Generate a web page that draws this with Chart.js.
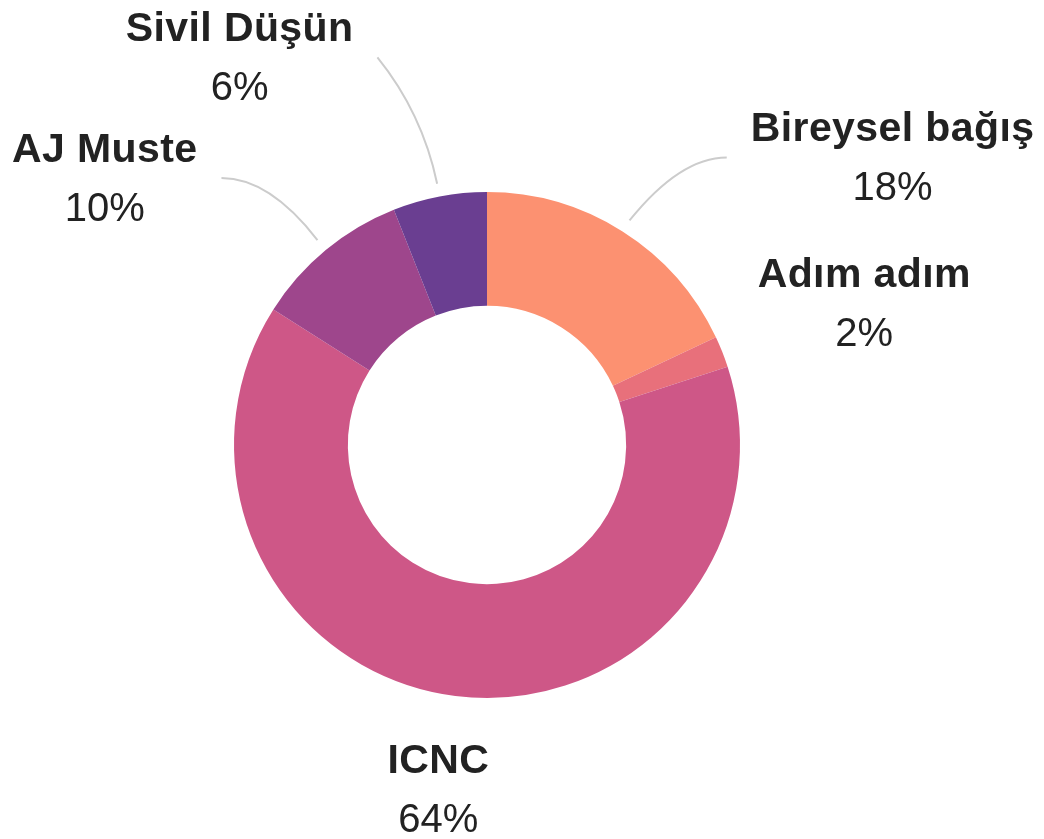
<!DOCTYPE html>
<html>
<head>
<meta charset="utf-8">
<script src="https://cdn.jsdelivr.net/npm/chart.js@4"></script>
<style>
  body { margin: 0; background: #fff; }
  canvas { display: block; }
</style>
</head>
<body>
<canvas id="myChart" width="1044" height="839"></canvas>
<script>
// DATA
const categories = ['Bireysel bağış', 'Adım adım', 'ICNC', 'AJ Muste', 'Sivil Düşün'];
const shares = [18, 2, 64, 10, 6];
const colors = ['#fc9171', '#e8707b', '#ce5787', '#9e468c', '#6a3e91'];

// label placement, relative to the outer middle point of each slice
const labelOffsetX = [270, 142, -17, -221, -200];
const labelOffsetY = [-90, -65, 77, -88, -155];
const hasConnector = [true, false, false, true, true];
// control point of the connector curve (fraction of start->end)
const bendX = [0.52, 0, 0, 0.5, 0.25];
const bendY = [1, 0, 0, 1, 0.56];

// OUTSIDE LABELS PLUGIN
const outsideLabels = {
  id: 'outsideLabels',
  afterDatasetsDraw(chart) {
    const ctx = chart.ctx;
    const arcs = chart.getDatasetMeta(0).data;
    arcs.forEach((arc, i) => {
      const p = arc.getProps(['x', 'y', 'startAngle', 'endAngle', 'outerRadius']);
      const mid = (p.startAngle + p.endAngle) / 2;
      const mx = p.x + Math.cos(mid) * p.outerRadius;
      const my = p.y + Math.sin(mid) * p.outerRadius;
      const lx = mx + labelOffsetX[i];
      const ly = my + labelOffsetY[i];

      ctx.save();
      ctx.fillStyle = '#222222';
      ctx.textAlign = 'center';
      ctx.textBaseline = 'alphabetic';
      ctx.font = 'bold 41px "Liberation Sans", Arial, sans-serif';
      ctx.letterSpacing = '0.4px';
      const nameW = ctx.measureText(categories[i]).width;
      ctx.fillText(categories[i], lx, ly);
      ctx.letterSpacing = '0px';
      ctx.font = '40px "Liberation Sans", Arial, sans-serif';
      ctx.fillText(shares[i] + '%', lx, ly + 59);

      if (hasConnector[i]) {
        const sx = p.x + Math.cos(mid) * (p.outerRadius + 13);
        const sy = p.y + Math.sin(mid) * (p.outerRadius + 13);
        const ex = lx > sx ? lx - nameW / 2 - 24 : lx + nameW / 2 + 24;
        const ey = ly + 16;
        const cx = sx + (ex - sx) * bendX[i];
        const cy = sy + (ey - sy) * bendY[i];
        ctx.strokeStyle = '#cccccc';
        ctx.lineWidth = 2;
        ctx.beginPath();
        ctx.moveTo(sx, sy);
        ctx.quadraticCurveTo(cx, cy, ex, ey);
        ctx.stroke();
      }
      ctx.restore();
    });
  }
};

const myChart = new Chart(document.getElementById('myChart'), {
  type: 'doughnut',
  data: {
    labels: categories,
    datasets: [{
      data: shares,
      backgroundColor: colors,
      borderWidth: 0
    }]
  },
  options: {
    responsive: false,
    animation: false,
    cutout: '55%',
    layout: {
      padding: { left: 234, right: 304, top: 192, bottom: 141 }
    },
    plugins: {
      legend: { display: false },
      tooltip: { enabled: false }
    }
  },
  plugins: [outsideLabels]
});
</script>
</body>
</html>
